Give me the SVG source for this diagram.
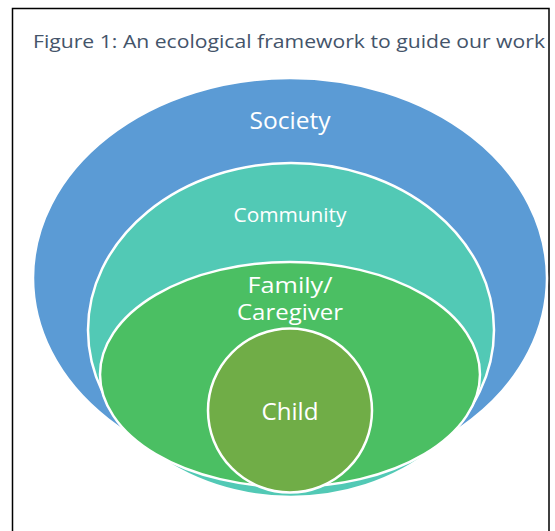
<svg xmlns="http://www.w3.org/2000/svg" width="555" height="531" viewBox="0 0 555 531">
<style>
.lbl{font-family:"Open Sans","Liberation Sans",sans-serif;fill:#ffffff;text-anchor:middle}
.ring{stroke:#ffffff;stroke-width:2.5}
</style>
<rect x="0" y="0" width="555" height="531" fill="#ffffff"/>
<g id="frame">
<path d="M12.5 540 V8.5 H549 V540" fill="none" stroke="#000000" stroke-width="1.5"/>
<text x="33" y="48" font-family="Open Sans, Liberation Sans, sans-serif" font-size="19" fill="#44546A" textLength="512" lengthAdjust="spacingAndGlyphs">Figure 1: An ecological framework to guide our work</text>
</g>
<g id="society">
<ellipse cx="290" cy="278" rx="257" ry="200" fill="#5B9BD5" class="ring"/>
<text class="lbl" x="290" y="129" font-size="24" textLength="81" lengthAdjust="spacingAndGlyphs">Society</text>
</g>
<g id="community">
<ellipse cx="291" cy="330" rx="203" ry="167" fill="#52C9B5" class="ring"/>
<text class="lbl" x="290" y="222" font-size="20" textLength="113" lengthAdjust="spacingAndGlyphs">Community</text>
</g>
<g id="family">
<ellipse cx="290" cy="374.5" rx="190" ry="112.5" fill="#4BBF63" class="ring"/>
<text class="lbl" x="290" y="293" font-size="21" textLength="85" lengthAdjust="spacingAndGlyphs">Family/</text>
<text class="lbl" x="290" y="320" font-size="21" textLength="106" lengthAdjust="spacingAndGlyphs">Caregiver</text>
</g>
<g id="child">
<circle cx="290" cy="410.5" r="82" fill="#70AD47" class="ring"/>
<text class="lbl" x="290" y="420" font-size="23" textLength="57" lengthAdjust="spacingAndGlyphs">Child</text>
</g>
<g id="connectors"/>
</svg>
